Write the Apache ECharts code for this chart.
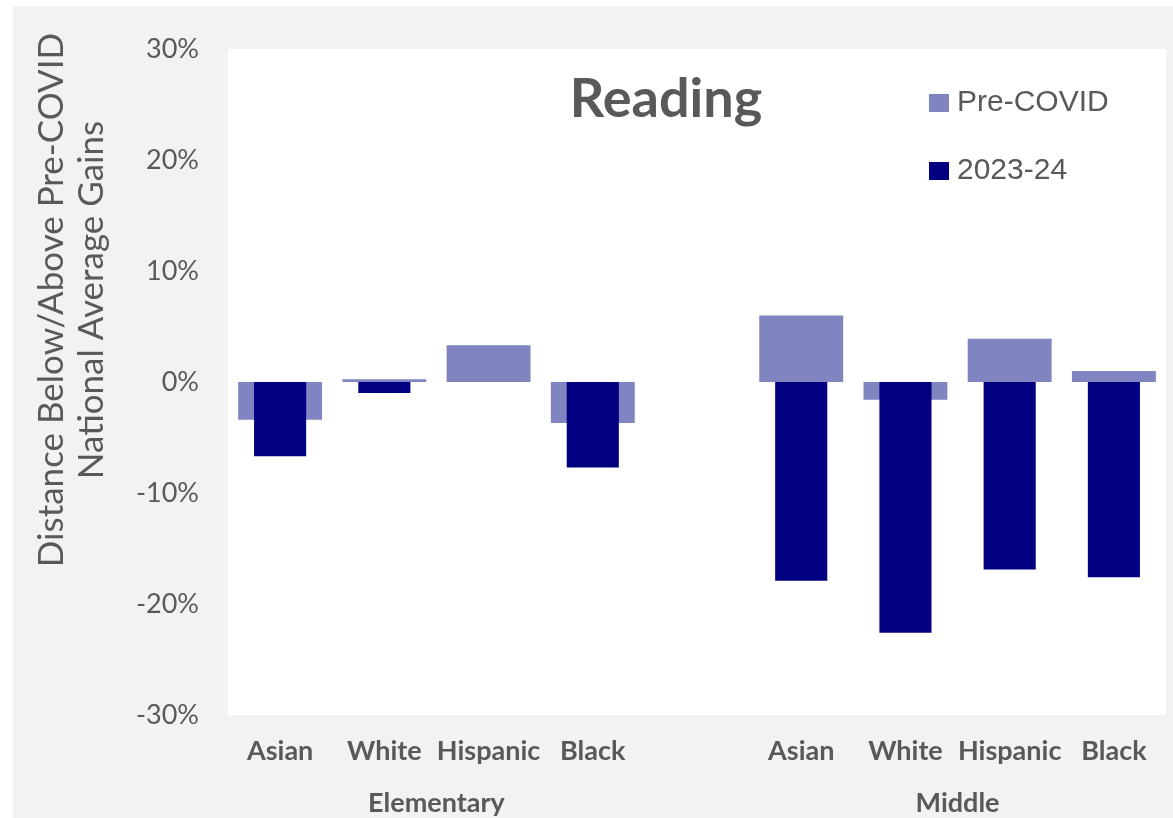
<!DOCTYPE html>
<html>
<head>
<meta charset="utf-8">
<script src="https://cdn.jsdelivr.net/npm/echarts@6/dist/echarts.min.js"></script>
<style>
  html, body { margin: 0; padding: 0; background: #ffffff; }
  #wrap { position: absolute; left: 13px; top: 6px; width: 1160px; height: 812px; background: #f2f2f2; }
  #chart { position: absolute; left: -13px; top: -6px; width: 1173px; height: 818px; }
</style>
</head>
<body>
<div id="wrap"><div id="chart"></div></div>
<script>
const categories = ['Asian', 'White', 'Hispanic', 'Black', '', 'Asian', 'White', 'Hispanic', 'Black'];
const groupLabels = { 2: 'Elementary', 7: 'Middle' };
const preCovid = [-3.4, 0.25, 3.3, -3.7, null, 6.0, -1.6, 3.9, 1.0];
const y2023 = [-6.7, -1.0, 0, -7.7, null, -17.9, -22.6, -16.9, -17.6];
const yAxisTitle = 'Distance Below/Above Pre-COVID\nNational Average Gains';

const chart = echarts.init(document.getElementById('chart'), null, { renderer: 'canvas' });
const gray = '#595959';
chart.setOption({
  backgroundColor: 'transparent',
  animation: false,
  title: {
    text: 'Reading',
    left: 661, top: 68, textAlign: 'center',
    textStyle: { fontFamily: 'Lato', fontWeight: 'bold', fontSize: 54, color: gray }
  },
  legend: {
    orient: 'vertical', left: 924, top: 83, itemGap: 38,
    itemWidth: 20, itemHeight: 18, icon: 'rect',
    textStyle: { fontFamily: 'Liberation Sans', fontSize: 30, color: gray, padding: [0, 0, 0, 3] },
    data: ['Pre-COVID', '2023-24']
  },
  graphic: [{
    type: 'text', x: 72, y: 300, rotation: Math.PI / 2,
    style: {
      text: yAxisTitle, fill: gray, fontFamily: 'Lato', fontSize: 35,
      lineHeight: 40, align: 'center', verticalAlign: 'middle'
    }
  }],
  grid: { left: 228, top: 49, right: 7, bottom: 103, containLabel: false, backgroundColor: '#ffffff', show: true, borderWidth: 0 },
  xAxis: [
    {
      type: 'category', data: categories, position: 'bottom',
      axisLine: { show: false }, axisTick: { show: false },
      axisLabel: { interval: 0, margin: 23, fontFamily: 'Lato', fontWeight: 'bold', fontSize: 27, color: gray }
    },
    {
      type: 'category', data: categories, show: false
    },
    {
      type: 'value', min: 0, max: 9, interval: 1, position: 'bottom', offset: 52,
      axisLine: { show: false }, axisTick: { show: false }, splitLine: { show: false },
      axisLabel: { margin: 23, fontFamily: 'Lato', fontWeight: 'bold', fontSize: 27, color: gray,
        formatter: v => groupLabels[v] || '' }
    }
  ],
  yAxis: {
    type: 'value', min: -30, max: 30, interval: 10,
    axisLine: { show: false }, axisTick: { show: false }, splitLine: { show: false },
    axisLabel: { margin: 29, fontFamily: 'Lato', fontSize: 27, color: gray, formatter: v => v + '%' }
  },
  series: [
    {
      name: 'Pre-COVID', type: 'bar', xAxisIndex: 0, data: preCovid,
      barWidth: '80.5%', itemStyle: { color: '#8084c0' }, z: 2
    },
    {
      name: '2023-24', type: 'bar', xAxisIndex: 1, data: y2023,
      barWidth: '50%', itemStyle: { color: '#000080' }, z: 3
    }
  ]
});
</script>
</body>
</html>
